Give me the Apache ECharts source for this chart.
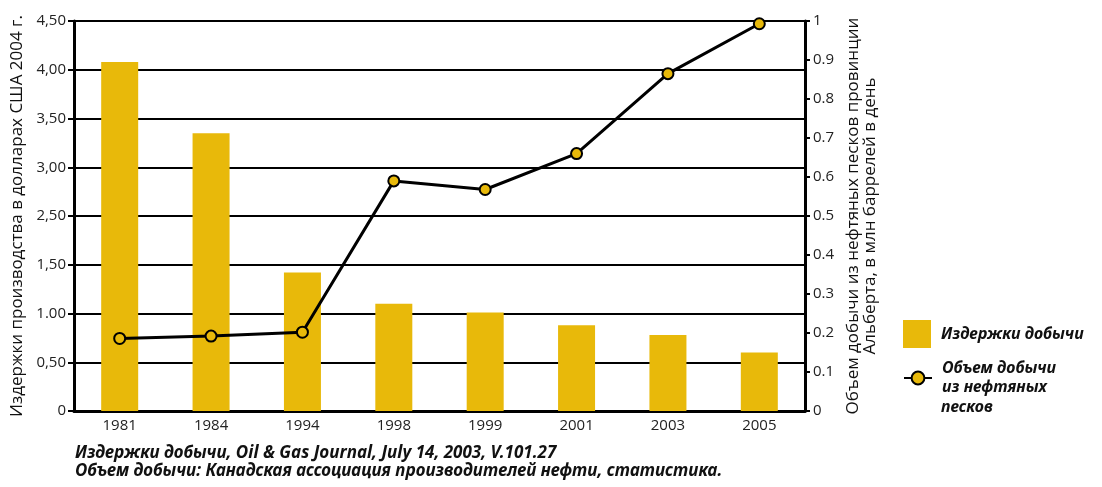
<!DOCTYPE html>
<html>
<head>
<meta charset="utf-8">
<script src="https://cdn.jsdelivr.net/npm/echarts@6/dist/echarts.min.js"></script>
<style>
  html, body { margin: 0; padding: 0; background: #fff; }
  #chart { width: 1102px; height: 487px; }
</style>
</head>
<body>
<div id="chart"></div>
<script>
// годы
var years = ['1981', '1984', '1994', '1998', '1999', '2001', '2003', '2005'];
// издержки добычи, долл. США 2004 г.
var costs = [4.08, 3.35, 1.42, 1.10, 1.01, 0.88, 0.78, 0.60];
// объем добычи, млн баррелей в день
var volume = [0.186, 0.192, 0.202, 0.59, 0.568, 0.66, 0.865, 0.993];
// подписи левой оси (в оригинале нет 2,00)
var leftTicks = ['0', '0,50', '1.00', '1,50', '2,50', '3,00', '3,50', '4,00', '4,50'];
var rightTicks = ['0', '0.1', '0.2', '0.3', '0.4', '0.5', '0.6', '0.7', '0.8', '0.9', '1'];

// перевод значения в позицию на левой оси с пропущенной отметкой 2,00
function toPos(v) {
    return v <= 1.5 ? v / 0.5 : v / 0.5 - 1;
}
var costPos = [];
for (var i = 0; i < costs.length; i++) {
    costPos.push(toPos(costs[i]));
}

var yellow = '#E8B90A';
var font = '"Open Sans", "Noto Sans", sans-serif';
var legendFont = {
    fontSize: 16, fontWeight: 'bold', fontStyle: 'italic', color: '#111',
    fontFamily: '"Noto Sans", sans-serif', lineHeight: 19,
    rich: { t: { padding: [0, 0, 0, 5], fontSize: 16, fontWeight: 'bold', fontStyle: 'italic', lineHeight: 19 } }
};

var myChart = echarts.init(document.getElementById('chart'));

var option = {
    animation: false,
    textStyle: { fontFamily: font },
    grid: { left: 74, right: 297, top: 21, bottom: 76 },
    legend: [
        {
            data: [{ name: 'Издержки добычи', icon: 'rect' }],
            left: 903, top: 320, padding: 0,
            itemWidth: 28, itemHeight: 28,
            formatter: function (name) { return '{t|' + name + '}'; },
            textStyle: legendFont
        },
        {
            data: ['Объем добычи из нефтяных песков'],
            left: 903, top: 359, padding: 0,
            itemWidth: 28, itemHeight: 16,
            formatter: function () { return '{t|Объем добычи}\n{t|из нефтяных}'; },
            textStyle: legendFont
        }
    ],
    xAxis: {
        type: 'category',
        data: years,
        axisLine: { lineStyle: { color: '#000', width: 3 } },
        axisTick: { length: 6, lineStyle: { color: '#000', width: 2 } },
        axisLabel: { fontSize: 15, color: '#222', margin: 7 }
    },
    yAxis: [
        {
            type: 'value',
            min: 0, max: 8, interval: 1,
            name: 'Издержки производства в долларах США 2004 г.',
            nameLocation: 'middle',
            nameGap: 48,
            nameTextStyle: { fontSize: 17, color: '#111' },
            axisLine: { show: true, lineStyle: { color: '#000', width: 3 } },
            axisTick: { show: true, length: 6, lineStyle: { color: '#000', width: 2 } },
            axisLabel: {
                fontSize: 15, color: '#222', margin: 8,
                formatter: function (v) { return leftTicks[v]; }
            },
            splitLine: { lineStyle: { color: '#000', width: 2 } }
        },
        {
            type: 'value',
            min: 0, max: 1, interval: 0.1,
            position: 'right',
            name: 'Объем добычи из нефтяных песков провинции\nАльберта, в млн баррелей в день',
            nameLocation: 'middle',
            nameGap: 30,
            nameTextStyle: { fontSize: 17, color: '#111', lineHeight: 17 },
            axisLine: { show: true, lineStyle: { color: '#000', width: 3 } },
            axisTick: { show: true, length: 5, lineStyle: { color: '#000', width: 2 } },
            axisLabel: {
                fontSize: 15, color: '#222', margin: 8,
                formatter: function (v) { return rightTicks[Math.round(v * 10)]; }
            },
            splitLine: { show: false }
        }
    ],
    series: [
        {
            name: 'Издержки добычи',
            type: 'bar',
            data: costPos,
            barWidth: 37,
            itemStyle: { color: yellow }
        },
        {
            name: 'Объем добычи из нефтяных песков',
            type: 'line',
            yAxisIndex: 1,
            data: volume,
            symbol: 'circle',
            symbolSize: 11,
            lineStyle: { color: '#000', width: 3 },
            itemStyle: { color: yellow, borderColor: '#000', borderWidth: 2 }
        }
    ],
    graphic: [
        {
            // третья строка подписи легенды
            type: 'text', left: 941, top: 399,
            style: { text: 'песков', font: 'italic bold 16px "Noto Sans", sans-serif', fill: '#111' }
        },
        {
            type: 'text', left: 75, top: 445,
            style: { text: 'Издержки добычи, Oil & Gas Journal, July 14, 2003, V.101.27',
                font: 'italic bold 17px "Noto Sans", sans-serif', fill: '#111' }
        },
        {
            type: 'text', left: 75, top: 463,
            style: { text: 'Объем добычи: Канадская ассоциация производителей нефти, статистика.',
                font: 'italic bold 17px "Noto Sans", sans-serif', fill: '#111' }
        }
    ]
};

myChart.setOption(option);
</script>
</body>
</html>
